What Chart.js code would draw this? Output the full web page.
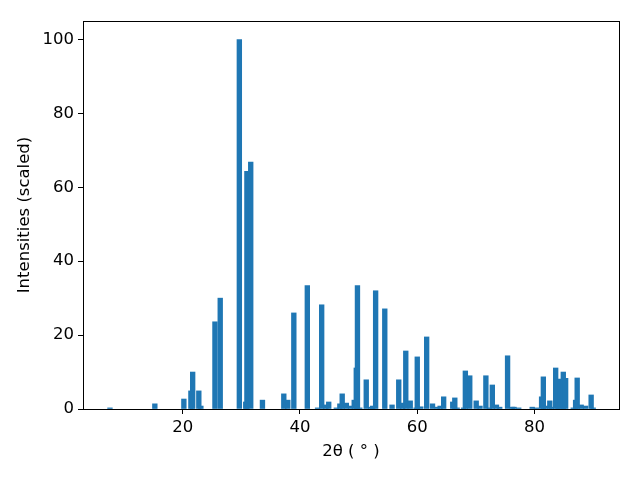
<!DOCTYPE html>
<html>
<head>
<meta charset="utf-8">
<script src="https://cdn.jsdelivr.net/npm/chart.js@4/dist/chart.umd.min.js"></script>
<style>
  html, body { margin: 0; padding: 0; background: #fff; }
  canvas { display: block; }
</style>
</head>
<body>
<canvas id="xrdChart" width="640" height="480"></canvas>
<script>
// peak positions (2 theta, degrees) and scaled intensities
var twoTheta = [
    7.6, 15.25, 20.2, 21.4, 21.7, 22.75, 23.1, 25.5, 26.4, 29.66,
    30.75, 30.95, 31.6, 33.6, 37.24, 37.92, 38.95, 41.25, 43.0, 43.7,
    44.4, 44.9, 46.2, 46.8, 47.2, 47.9, 48.6, 49.25, 49.6, 49.8,
    50.2, 51.3, 52.07, 52.4, 52.9, 54.46, 55.7, 56.84, 57.5, 58.04,
    58.8, 59.8, 60.0, 60.6, 61.6, 62.6, 63.4, 63.9, 64.5, 66.05,
    66.4, 66.8, 67.9, 68.2, 68.95, 70.05, 70.7, 71.7, 72.3, 72.8,
    73.5, 74.06, 75.4, 76.2, 76.5, 77.3, 79.6, 80.3, 81.2, 81.5,
    81.9, 82.6, 82.9, 83.6, 84.0, 84.4, 84.9, 85.3, 86.6, 87.0,
    87.27, 87.95, 88.7, 89.65, 90.0
];
var intensity = [
    0.3, 1.4, 2.7, 4.9, 10.0, 4.9, 0.8, 23.6, 30.0, 100,
    1.9, 64.3, 66.8, 2.4, 4.1, 2.4, 26.0, 33.4, 0.3, 28.2,
    1.1, 1.9, 0.3, 1.4, 4.1, 1.6, 0.8, 2.4, 11.1, 33.4,
    0.3, 7.9, 0.5, 0.8, 32.0, 27.1, 1.1, 7.9, 1.6, 15.7,
    2.2, 0.3, 14.1, 0.6, 19.5, 1.4, 0.5, 0.8, 3.3, 1.9,
    3.0, 0.3, 0.3, 10.3, 9.0, 2.2, 0.8, 9.0, 0.3, 6.5,
    1.1, 0.5, 14.4, 0.5, 0.5, 0.3, 0.5, 0.3, 3.3, 8.7,
    0.8, 2.2, 0.5, 11.1, 1.6, 8.1, 10.0, 8.3, 0.3, 2.4,
    8.4, 1.1, 0.8, 3.8, 0.3
];
var xTicks = [20, 40, 60, 80];
var yTicks = [0, 20, 40, 60, 80, 100];

var tickFont = { family: 'DejaVu Sans', size: 16.5 };

// box around the plot area (matplotlib spines)
var frame = {
    id: 'frame',
    afterDraw: function (chart) {
        var a = chart.chartArea;
        var c = chart.ctx;
        c.save();
        c.strokeStyle = '#000';
        c.lineWidth = 1;
        c.strokeRect(Math.round(a.left) + 0.5, Math.round(a.top) + 0.5,
            Math.round(a.right - a.left), Math.round(a.bottom - a.top));
        c.restore();
    }
};

var points = twoTheta.map(function (x, i) {
    return { x: x, y: intensity[i] };
});

var ctx = document.getElementById('xrdChart').getContext('2d');
var xrdChart = new Chart(ctx, {
    type: 'bar',
    data: {
        datasets: [{
            data: points,
            backgroundColor: '#1f77b4',
            borderWidth: 0,
            barThickness: 4.7
        }]
    },
    options: {
        responsive: false,
        animation: false,
        devicePixelRatio: 1,
        layout: { padding: { left: 0, right: 21, top: 21, bottom: 0 } },
        plugins: { legend: { display: false }, tooltip: { enabled: false } },
        scales: {
            x: {
                type: 'linear',
                min: 3,
                max: 94.4,
                offset: false,
                afterFit: function (s) { s.height = 71; },
                afterBuildTicks: function (s) {
                    s.ticks = xTicks.map(function (v) { return { value: v }; });
                },
                grid: { offset: false, drawOnChartArea: false, drawTicks: true, tickLength: 5, tickColor: '#000' },
                border: { display: false },
                ticks: { color: '#000', font: tickFont, padding: 4, maxRotation: 0 },
                title: {
                    display: true,
                    text: '2θ ( ° )',
                    color: '#000',
                    font: tickFont,
                    padding: { top: 0, bottom: 18 }
                }
            },
            y: {
                min: 0,
                max: 105,
                afterFit: function (s) { s.width = 83; },
                afterBuildTicks: function (s) {
                    s.ticks = yTicks.map(function (v) { return { value: v }; });
                },
                grid: { drawOnChartArea: false, drawTicks: true, tickLength: 5, tickColor: '#000' },
                border: { display: false },
                ticks: { color: '#000', font: tickFont, padding: 4 },
                title: {
                    display: true,
                    text: 'Intensities (scaled)',
                    color: '#000',
                    font: tickFont,
                    padding: { top: 15, bottom: 0 }
                }
            }
        }
    },
    plugins: [frame]
});
</script>
</body>
</html>
